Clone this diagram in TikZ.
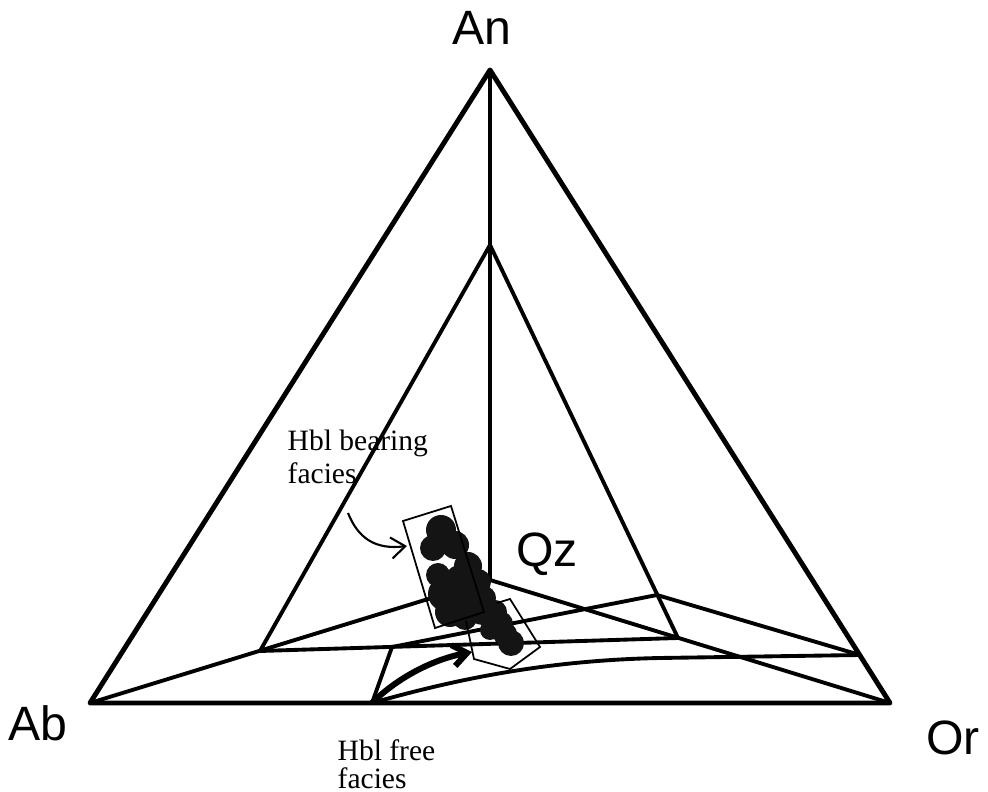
\documentclass[tikz,border=0pt]{standalone}
\usepackage{fontspec}
\newfontfamily\labelfont{Liberation Sans}
\newfontfamily\faciesfont{Liberation Serif}
\usetikzlibrary{arrows.meta}
\begin{document}
\begin{tikzpicture}[x=0.01cm, y=-0.01cm,
  frame/.style={line width=1.4pt, line join=round},
  plane/.style={line width=1.1pt, line join=round},
  thin box/.style={line width=0.5pt},
  corner/.style={font=\labelfont\fontsize{13.7}{16}\selectfont, inner sep=0pt, anchor=base},
  facies/.style={font=\faciesfont\fontsize{8.4}{9.4}\selectfont, align=left, inner sep=0pt, anchor=north west}]
  \useasboundingbox (0,0) rectangle (988,792);
  \coordinate (An) at (490,70);
  \coordinate (Ab) at (90,703);
  \coordinate (Or) at (890,703);
  \coordinate (Qz) at (490,580);
  \coordinate (p1) at (490,245);
  \coordinate (p2) at (260,651);
  \coordinate (p3) at (678,638);
  \coordinate (s1) at (372,703);
  \coordinate (s2) at (392,647);
  \coordinate (s3) at (657,595);
  \coordinate (s4) at (860,655);
  \draw[frame] (Ab) -- (An) -- (Or) -- cycle;
  \draw[plane] (An) -- (Qz);
  \draw[plane] (Ab) -- (Qz) -- (Or);
  \draw[plane] (p2) -- (p1) -- (p3) -- (p2);
  \draw[plane] (s1) -- (s2) -- (s3) -- (s4);
  \draw[plane] (s1) .. controls (470,675) and (560,660) .. (660,658) -- (s4);
  \foreach \x/\y/\r in {441/530/15, 433/548/13, 455/545/14, 468/566/14, 478/582/13,
      460/580/15, 438/575/12, 445/594/17, 450/612/15, 470/598/15, 465/618/12,
      484/598/12, 482/612/13, 495/612/12, 500/624/13, 505/634/12, 511/643/13, 490/630/10}
    \fill[black!92] (\x,\y) circle[radius=\r];
  \draw[thin box] (403,521) -- (451,506) -- (484,612) -- (435,628) -- cycle;
  \draw[thin box] (497,603) -- (510,599) -- (540,647) -- (510,669) -- (474,659) -- (466,621);
  \coordinate (hb) at (348,513);
  \coordinate (hbtip) at (407,546);
  \draw[line width=0.6pt, -{Straight Barb[length=4pt,width=6pt]}] (hb) .. controls (358,538) and (375,550) .. (hbtip);
  \coordinate (hftip) at (472,652);
  \draw[line width=1.7pt, -{Straight Barb[length=4pt,width=6pt]}] (s1) .. controls (395,680) and (430,660) .. (hftip);
  \node[corner] (lAn) at (482,45) {An};
  \node[corner] (lAb) at (38,741) {Ab};
  \node[corner] (lOr) at (953,755) {Or};
  \node[corner] (lQz) at (547,567) {Qz};
  \node[facies] (bearing) at (287,429) {Hbl bearing\\facies};
  \node[facies, font=\faciesfont\fontsize{8.4}{8}\selectfont] (free) at (337,739) {Hbl free\\facies};
\end{tikzpicture}
\end{document}
